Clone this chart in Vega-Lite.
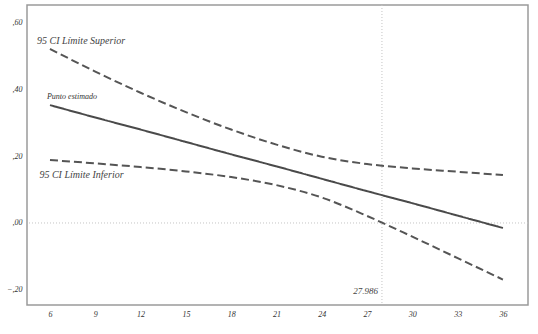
{
  "$schema": "https://vega.github.io/schema/vega-lite/v6.json",
  "width": 501,
  "height": 300,
  "autosize": {"type": "none"},
  "padding": {"left": 27, "top": 5, "right": 10, "bottom": 29},
  "background": "white",
  "config": {
    "view": {"stroke": "#9a9a9a", "strokeWidth": 1.5},
    "axis": {"labelFont": "Liberation Serif", "labelFontStyle": "italic", "labelColor": "#333", "labelFontSize": 8, "grid": false, "ticks": false, "domain": false, "title": null}
  },
  "datasets": {
    "lines": [
      {"x": 6, "series": "Punto estimado", "value": 0.352},
      {"x": 9, "series": "Punto estimado", "value": 0.315},
      {"x": 12, "series": "Punto estimado", "value": 0.279},
      {"x": 15, "series": "Punto estimado", "value": 0.242},
      {"x": 18, "series": "Punto estimado", "value": 0.205},
      {"x": 21, "series": "Punto estimado", "value": 0.169},
      {"x": 24, "series": "Punto estimado", "value": 0.132},
      {"x": 27, "series": "Punto estimado", "value": 0.095},
      {"x": 30, "series": "Punto estimado", "value": 0.059},
      {"x": 33, "series": "Punto estimado", "value": 0.022},
      {"x": 36, "series": "Punto estimado", "value": -0.015},
      {"x": 6, "series": "Superior", "value": 0.52},
      {"x": 9, "series": "Superior", "value": 0.452},
      {"x": 12, "series": "Superior", "value": 0.389},
      {"x": 15, "series": "Superior", "value": 0.331},
      {"x": 18, "series": "Superior", "value": 0.279},
      {"x": 21, "series": "Superior", "value": 0.234},
      {"x": 24, "series": "Superior", "value": 0.198},
      {"x": 27, "series": "Superior", "value": 0.176},
      {"x": 30, "series": "Superior", "value": 0.163},
      {"x": 33, "series": "Superior", "value": 0.153},
      {"x": 36, "series": "Superior", "value": 0.143},
      {"x": 6, "series": "Inferior", "value": 0.188},
      {"x": 9, "series": "Inferior", "value": 0.178},
      {"x": 12, "series": "Inferior", "value": 0.167},
      {"x": 15, "series": "Inferior", "value": 0.154},
      {"x": 18, "series": "Inferior", "value": 0.137},
      {"x": 21, "series": "Inferior", "value": 0.113},
      {"x": 24, "series": "Inferior", "value": 0.076},
      {"x": 27, "series": "Inferior", "value": 0.021},
      {"x": 30, "series": "Inferior", "value": -0.041},
      {"x": 33, "series": "Inferior", "value": -0.105},
      {"x": 36, "series": "Inferior", "value": -0.169}
    ],
    "labels": [
      {"x": 5.14, "y": 0.543, "label": "95 CI Límite Superior", "kind": "ci"},
      {"x": 5.8, "y": 0.376, "label": "Punto estimado", "kind": "est"},
      {"x": 5.3, "y": 0.143, "label": "95 CI Límite Inferior", "kind": "ci"}
    ],
    "refs": [
      {"jn": 27.986, "zero": 0, "labely": -0.203, "label": "27.986"}
    ]
  },
  "layer": [
    {
      "data": {"name": "refs"},
      "mark": {"type": "rule", "color": "#c4c4c4", "strokeDash": [1, 2], "strokeWidth": 1},
      "encoding": {"y": {"field": "zero", "type": "quantitative", "scale": {"domain": [-0.245, 0.651], "nice": false, "zero": false}}}
    },
    {
      "data": {"name": "refs"},
      "mark": {"type": "rule", "color": "#c4c4c4", "strokeDash": [1, 2], "strokeWidth": 1},
      "encoding": {"x": {"field": "jn", "type": "quantitative", "scale": {"domain": [4.477, 37.66], "nice": false, "zero": false}}}
    },
    {
      "data": {"name": "lines"},
      "mark": {"type": "line", "strokeWidth": 2, "interpolate": "monotone"},
      "encoding": {
        "x": {"field": "x", "type": "quantitative", "scale": {"domain": [4.477, 37.66], "nice": false, "zero": false},
              "axis": {"values": [6, 9, 12, 15, 18, 21, 24, 27, 30, 33, 36], "labelPadding": 5, "format": "d"}},
        "y": {"field": "value", "type": "quantitative", "scale": {"domain": [-0.245, 0.651], "nice": false, "zero": false},
              "axis": {"values": [-0.2, 0, 0.2, 0.4, 0.6], "labelPadding": 5, "labelExpr": "replace(format(datum.value, '.2f'), '0.', ',')"}},
        "detail": {"field": "series"},
        "color": {"field": "series", "type": "nominal", "scale": {"domain": ["Punto estimado", "Superior", "Inferior"], "range": ["#4a4a4a", "#555555", "#555555"]}, "legend": null},
        "strokeDash": {"field": "series", "type": "nominal", "scale": {"domain": ["Punto estimado", "Superior", "Inferior"], "range": [[1, 0], [8, 4], [8, 4]]}, "legend": null}
      }
    },
    {
      "data": {"name": "labels"},
      "transform": [{"filter": "datum.kind == 'ci'"}],
      "mark": {"type": "text", "align": "left", "baseline": "middle", "font": "Liberation Serif", "fontStyle": "italic", "fontSize": 10, "color": "#444"},
      "encoding": {
        "x": {"field": "x", "type": "quantitative"},
        "y": {"field": "y", "type": "quantitative"},
        "text": {"field": "label"}
      }
    },
    {
      "data": {"name": "labels"},
      "transform": [{"filter": "datum.kind == 'est'"}],
      "mark": {"type": "text", "align": "left", "baseline": "middle", "font": "Liberation Serif", "fontStyle": "italic", "fontSize": 8, "color": "#333"},
      "encoding": {
        "x": {"field": "x", "type": "quantitative"},
        "y": {"field": "y", "type": "quantitative"},
        "text": {"field": "label"}
      }
    },
    {
      "data": {"name": "refs"},
      "mark": {"type": "text", "align": "right", "baseline": "middle", "dx": -4, "font": "Liberation Serif", "fontStyle": "italic", "fontSize": 9, "color": "#444"},
      "encoding": {
        "x": {"field": "jn", "type": "quantitative"},
        "y": {"field": "labely", "type": "quantitative"},
        "text": {"field": "label"}
      }
    }
  ]
}
